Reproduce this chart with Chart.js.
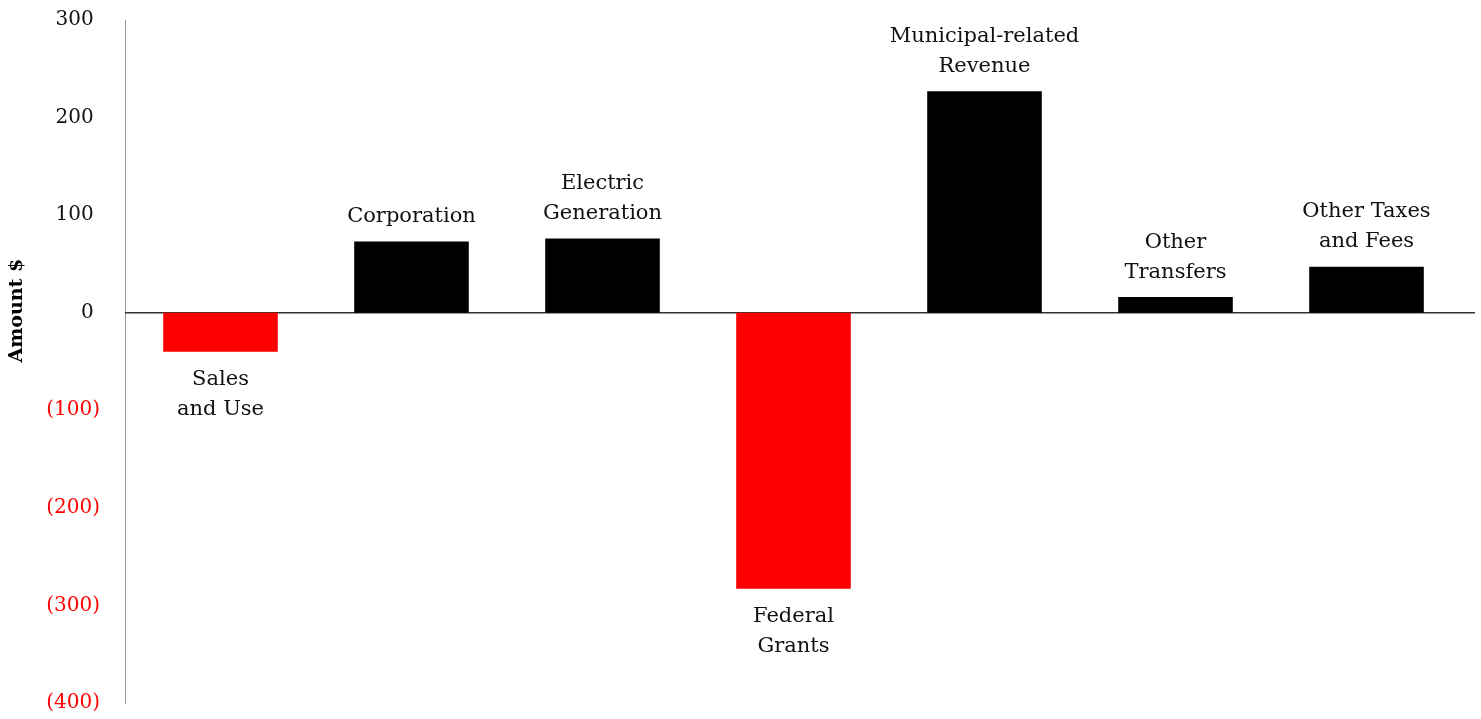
<!DOCTYPE html>
<html>
<head>
<meta charset="utf-8">
<script src="https://cdn.jsdelivr.net/npm/chart.js@4/dist/chart.umd.min.js"></script>
<style>
  html, body { margin: 0; padding: 0; background: #fff; }
  #wrap { width: 1481px; height: 719px; }
</style>
</head>
<body>
<div id="wrap"><canvas id="chart"></canvas></div>
<script>
// Data
const categories = [
  ['Sales', 'and Use'],
  ['Corporation'],
  ['Electric', 'Generation'],
  ['Federal', 'Grants'],
  ['Municipal-related', 'Revenue'],
  ['Other', 'Transfers'],
  ['Other Taxes', 'and Fees']
];
const amounts = [-40, 73, 76, -283, 227, 16, 47];
const tickValues = [300, 200, 100, 0, -100, -200, -300, -400];
const axisTitle = 'Amount $';

const FONT = '"DejaVu Serif", serif';

// format negatives the accounting way: (100); positives keep room for the ")"
function fmt(v) {
  return v < 0 ? '(' + Math.abs(v) + ')' : String(v) + ' ';
}

// zero line (runs a little past the last bar) + rotated axis title
const frame = {
  id: 'frame',
  beforeDatasetsDraw(chart) {
    const ctx = chart.ctx;
    const y0 = chart.scales.y.getPixelForValue(0);
    ctx.save();
    ctx.strokeStyle = '#333';
    ctx.lineWidth = 1.5;
    ctx.beginPath();
    ctx.moveTo(chart.chartArea.left, y0);
    ctx.lineTo(chart.width - 6, y0);
    ctx.stroke();
    ctx.restore();
  },
  afterDraw(chart) {
    const ctx = chart.ctx;
    const y0 = chart.scales.y.getPixelForValue(0);
    ctx.save();
    ctx.translate(17, y0 - 2);
    ctx.rotate(-Math.PI / 2);
    ctx.font = 'bold 19px ' + FONT;
    ctx.fillStyle = '#000';
    ctx.textAlign = 'center';
    ctx.textBaseline = 'middle';
    ctx.fillText(axisTitle, 0, 0);
    ctx.restore();
  }
};

// draws the category names above / below each bar
const barLabels = {
  id: 'barLabels',
  afterDatasetsDraw(chart) {
    const ctx = chart.ctx;
    const meta = chart.getDatasetMeta(0);
    ctx.save();
    ctx.font = '21px ' + FONT;
    ctx.fillStyle = '#111';
    ctx.textAlign = 'center';
    ctx.textBaseline = 'middle';
    meta.data.forEach((bar, i) => {
      const lines = categories[i];
      const lh = 30;
      if (amounts[i] >= 0) {
        const last = bar.y - 25;
        lines.forEach((t, k) => {
          ctx.fillText(t, bar.x, last - (lines.length - 1 - k) * lh);
        });
      } else {
        const first = bar.y + 28;
        lines.forEach((t, k) => {
          ctx.fillText(t, bar.x, first + k * lh);
        });
      }
    });
    ctx.restore();
  }
};

new Chart(document.getElementById('chart'), {
  type: 'bar',
  data: {
    labels: categories,
    datasets: [{
      data: amounts,
      backgroundColor: amounts.map(v => v < 0 ? '#ff0000' : '#000000'),
      borderWidth: 0,
      barPercentage: 0.6,
      categoryPercentage: 1.0
    }]
  },
  options: {
    responsive: true,
    maintainAspectRatio: false,
    animation: false,
    layout: { padding: { top: 20, bottom: 16, left: 0, right: 19 } },
    plugins: {
      legend: { display: false },
      tooltip: { enabled: false }
    },
    scales: {
      x: { display: false },
      y: {
        min: -400,
        max: 300,
        afterBuildTicks: (scale) => {
          scale.ticks = tickValues.map(v => ({ value: v }));
        },
        afterFit: (scale) => {
          scale.width = 125;
          scale.paddingTop = 0;
          scale.paddingBottom = 0;
        },
        ticks: {
          padding: 17,
          font: { family: FONT, size: 20 },
          color: (c) => c.tick.value < 0 ? '#ff0000' : '#111',
          callback: (v) => fmt(v)
        },
        grid: { display: false },
        border: { display: true, color: '#999', width: 1 }
      }
    }
  },
  plugins: [frame, barLabels]
});
</script>
</body>
</html>
